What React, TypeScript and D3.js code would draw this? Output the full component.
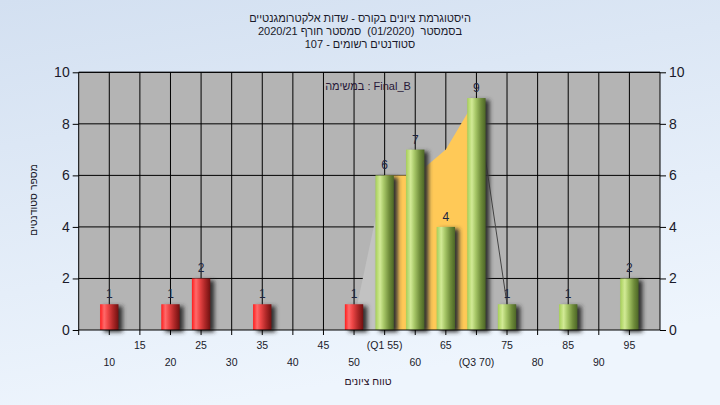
import { useEffect, useRef } from "react";
import * as d3 from "d3";

// histogram bins (score centre) and counts
const bins = [10, 20, 25, 35, 50, 55, 60, 65, 70, 75, 85, 95];
const counts = [1, 1, 2, 1, 1, 6, 7, 4, 9, 1, 1, 2];
const passFrom = 55;

// shaded regions behind the bars
const lowArea = [
  { x: 50, y: 0.4 },
  { x: 55, y: 6 },
];
const iqrArea = [
  { x: 55, y: 6 },
  { x: 60, y: 6 },
  { x: 65, y: 7 },
  { x: 70, y: 9 },
];
const tailLine = [
  { x: 70, y: 9 },
  { x: 75, y: 1 },
];

// two rows of x tick labels
const row1Ticks = [15, 25, 35, 45, 55, 65, 75, 85, 95];
const row1Labels = ["15", "25", "35", "45", "(Q1 55)", "65", "75", "85", "95"];
const row2Ticks = [10, 20, 30, 40, 50, 60, 70, 80, 90];
const row2Labels = ["10", "20", "30", "40", "50", "60", "(Q3 70)", "80", "90"];
const yTicks = [0, 2, 4, 6, 8, 10];

const titleLines = [
  "היסטוגרמת ציונים בקורס - שדות אלקטרומגנטיים",
  "בסמסטר  (01/2020)  סמסטר חורף 2020/21",
  "סטודנטים רשומים - 107",
];
const taskLabel = "במשימה : Final_B";
const xTitle = "טווח ציונים";
const yTitle = "מספר סטודנטים";

const W = 720;
const H = 405;
const FONT = "'Liberation Sans', Arial, sans-serif";

export default function App() {
  const ref = useRef<SVGSVGElement | null>(null);

  useEffect(() => {
    const svg = d3.select(ref.current);
    svg.selectAll("*").remove();

    const left = 78.7;
    const right = 660;
    const top = 72.3;
    const bottom = 330;

    const x = d3.scaleLinear().domain([5, 100]).range([left, right]);
    const y = d3.scaleLinear().domain([0, 10]).range([bottom, top]);
    const barW = x(8) - x(5);

    const defs = svg.append("defs");
    const bg = defs
      .append("linearGradient")
      .attr("id", "bg")
      .attr("x1", 0)
      .attr("y1", 0)
      .attr("x2", 0.3)
      .attr("y2", 1);
    bg.append("stop").attr("offset", "0%").attr("stop-color", "#d3e0f1");
    bg.append("stop").attr("offset", "100%").attr("stop-color", "#eef5fd");

    const grad = (id: string, stops: [number, string][]) => {
      const g = defs.append("linearGradient").attr("id", id).attr("x1", 0).attr("x2", 1).attr("y1", 0).attr("y2", 0);
      stops.forEach(([o, c]) => g.append("stop").attr("offset", `${o}%`).attr("stop-color", c));
    };
    grad("red", [
      [0, "#ff1c1c"],
      [22, "#ff6a6a"],
      [40, "#f04848"],
      [70, "#b02828"],
      [100, "#701010"],
    ]);
    grad("green", [
      [0, "#a6cf58"],
      [25, "#d2ea96"],
      [45, "#a8c868"],
      [75, "#6f8c3a"],
      [100, "#4c6626"],
    ]);

    const blur = defs.append("filter").attr("id", "shadow").attr("x", "-50%").attr("y", "-20%").attr("width", "200%").attr("height", "140%");
    blur.append("feGaussianBlur").attr("stdDeviation", 2);

    svg.append("rect").attr("width", W).attr("height", H).attr("fill", "url(#bg)");

    // Plot background
    svg
      .append("rect")
      .attr("x", left)
      .attr("y", top)
      .attr("width", right - left)
      .attr("height", bottom - top)
      .attr("fill", "#b4b4b4");

    // Gridlines
    const g = svg.append("g");
    g.selectAll("line.v")
      .data(d3.range(10, 100, 5))
      .enter()
      .append("line")
      .attr("x1", (d) => x(d))
      .attr("x2", (d) => x(d))
      .attr("y1", top)
      .attr("y2", bottom)
      .attr("stroke", "#000")
      .attr("stroke-width", 1);
    g.selectAll("line.h")
      .data(yTicks.filter((d) => d > 0))
      .enter()
      .append("line")
      .attr("x1", left)
      .attr("x2", right)
      .attr("y1", (d) => y(d))
      .attr("y2", (d) => y(d))
      .attr("stroke", "#000")
      .attr("stroke-width", 1);

    // Areas
    const area = d3
      .area<{ x: number; y: number }>()
      .x((d) => x(d.x))
      .y0(y(0))
      .y1((d) => y(d.y));
    svg.append("path").datum(lowArea).attr("fill", "#c2c2c2").attr("d", area);
    svg.append("path").datum(iqrArea).attr("fill", "#ffc957").attr("d", area);
    const line = d3
      .line<{ x: number; y: number }>()
      .x((d) => x(d.x))
      .y((d) => y(d.y));
    svg
      .append("path")
      .datum(tailLine)
      .attr("fill", "none")
      .attr("stroke", "#444")
      .attr("stroke-width", 1)
      .attr("d", line);

    // Bars
    const data = bins.map((b, i) => ({ b, c: counts[i] }));
    svg
      .append("g")
      .selectAll("rect")
      .data(data)
      .enter()
      .append("rect")
      .attr("x", (d) => x(d.b) - barW / 2 + 4)
      .attr("y", (d) => y(d.c) + 2)
      .attr("width", barW)
      .attr("height", (d) => y(0) - y(d.c))
      .attr("fill", "#303030")
      .attr("filter", "url(#shadow)");
    svg
      .append("g")
      .selectAll("rect")
      .data(data)
      .enter()
      .append("rect")
      .attr("x", (d) => x(d.b) - barW / 2)
      .attr("y", (d) => y(d.c))
      .attr("width", barW)
      .attr("height", (d) => y(0) - y(d.c))
      .attr("fill", (d) => (d.b >= passFrom ? "url(#green)" : "url(#red)"));

    svg
      .append("g")
      .selectAll("text")
      .data(data)
      .enter()
      .append("text")
      .attr("x", (d) => x(d.b))
      .attr("y", (d) => y(d.c) - 6)
      .attr("text-anchor", "middle")
      .attr("font-family", FONT)
      .attr("font-size", 12)
      .attr("fill", "#1c2440")
      .text((d) => d.c);

    // Frame
    svg
      .append("path")
      .attr("d", `M${left},${bottom}V${top}H${right}V${bottom}`)
      .attr("fill", "none")
      .attr("stroke", "#000");
    svg
      .append("line")
      .attr("x1", left)
      .attr("x2", right)
      .attr("y1", bottom)
      .attr("y2", bottom)
      .attr("stroke", "#000");

    // Y axes
    const yAxisL = d3.axisLeft(y).tickValues(yTicks).tickSize(6).tickPadding(3);
    const yAxisR = d3.axisRight(y).tickValues(yTicks).tickSize(6).tickPadding(3);
    const styleAxis = (sel: d3.Selection<SVGGElement, unknown, null, undefined>) => {
      sel.select(".domain").remove();
      sel.selectAll("line").attr("stroke", "#000");
      sel.selectAll("text").attr("font-size", 14).attr("font-family", FONT).attr("fill", "#1a1a2a");
    };
    svg.append("g").attr("transform", `translate(${left},0)`).call(yAxisL).call(styleAxis);
    svg.append("g").attr("transform", `translate(${right},0)`).call(yAxisR).call(styleAxis);

    // X ticks
    svg
      .append("g")
      .selectAll("line")
      .data(d3.range(5, 100, 5))
      .enter()
      .append("line")
      .attr("x1", (d) => x(d))
      .attr("x2", (d) => x(d))
      .attr("y1", bottom)
      .attr("y2", bottom + 5)
      .attr("stroke", "#000");

    const tickRow = (vals: number[], labels: string[], yy: number) =>
      svg
        .append("g")
        .selectAll("text")
        .data(vals)
        .enter()
        .append("text")
        .attr("x", (d) => x(d))
        .attr("y", yy)
        .attr("text-anchor", "middle")
        .attr("font-family", FONT)
        .attr("font-size", 10.5)
        .attr("fill", "#1a1a2a")
        .text((d, i) => labels[i]);
    tickRow(row1Ticks, row1Labels, 349);
    tickRow(row2Ticks, row2Labels, 366);

    // Titles
    titleLines.forEach((t, i) => {
      svg
        .append("text")
        .attr("x", 360)
        .attr("y", 22 + i * 13)
        .attr("text-anchor", "middle")
        .attr("direction", "rtl")
        .style("white-space", "pre")
        .attr("font-family", FONT)
        .attr("font-size", 11)
        .attr("fill", "#1a1a2a")
        .text(t);
    });

    svg
      .append("text")
      .attr("x", 368)
      .attr("y", 90)
      .attr("text-anchor", "middle")
      .attr("font-family", FONT)
      .attr("font-size", 11)
      .attr("fill", "#281838")
      .text(taskLabel);

    svg
      .append("text")
      .attr("x", 368)
      .attr("y", 385)
      .attr("text-anchor", "middle")
      .attr("font-family", FONT)
      .attr("font-size", 10.5)
      .attr("fill", "#281028")
      .text(xTitle);

    svg
      .append("text")
      .attr("transform", `translate(37,200) rotate(-90)`)
      .attr("text-anchor", "middle")
      .attr("font-family", FONT)
      .attr("font-size", 10.5)
      .attr("fill", "#1a1a2a")
      .text(yTitle);
  }, []);

  return (
    <svg
      ref={ref}
      width={W}
      height={H}
      viewBox={`0 0 ${W} ${H}`}
      style={{ position: "fixed", left: 0, top: 0, display: "block" }}
    />
  );
}
